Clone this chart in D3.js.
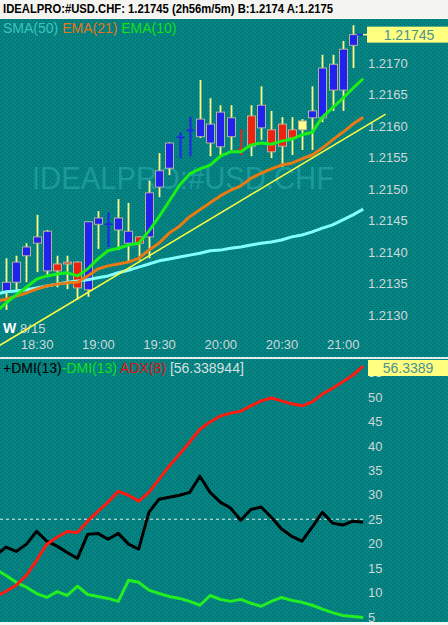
<!DOCTYPE html>
<html>
<head>
<meta charset="utf-8">
<script src="https://cdn.jsdelivr.net/npm/d3@7"></script>
<style>
  body { margin: 0; background: #f4f4f0; }
  svg { display: block; font-family: "Liberation Sans", Arial, sans-serif; }
</style>
</head>
<body>
<svg id="chart" width="448" height="625"></svg>
<script>
// 5 minute bars, USD.CHF, 15 Aug
const times = ["18:10","18:15","18:20","18:25","18:30","18:35","18:40","18:45","18:50","18:55",
  "19:00","19:05","19:10","19:15","19:20","19:25","19:30","19:35","19:40","19:45","19:50","19:55",
  "20:00","20:05","20:10","20:15","20:20","20:25","20:30","20:35","20:40","20:45","20:50","20:55",
  "21:00","21:05","21:10"]
const barTimes = times.slice(1, 36)

const open  = [1.21337,1.21352,1.21394,1.21414,1.21370,1.21381,1.21384,1.21384,1.21340,1.21444,
  1.21444,1.21435,1.21414,1.21424,1.21424,1.21503,1.21533,1.21582,1.21593,1.21583,1.21573,1.21567,
  1.21583,1.21563,1.21616,1.21597,1.21594,1.21603,1.21594,1.21594,1.21613,1.21613,1.21657,1.21657,1.21728]
const high  = [1.21390,1.21394,1.21414,1.21459,1.21435,1.21394,1.21394,1.21385,1.21449,1.21465,
  1.21463,1.21484,1.21478,1.21425,1.21513,1.21557,1.21574,1.21590,1.21614,1.21673,1.21644,1.21633,
  1.21633,1.21595,1.21633,1.21663,1.21624,1.21614,1.21614,1.21611,1.21663,1.21713,1.21713,1.21735,1.21760]
const low   = [1.21308,1.21340,1.21352,1.21368,1.21360,1.21344,1.21341,1.21324,1.21329,1.21405,
  1.21408,1.21403,1.21384,1.21387,1.21390,1.21487,1.21522,1.21549,1.21552,1.21581,1.21552,1.21554,
  1.21562,1.21554,1.21552,1.21578,1.21549,1.21535,1.21554,1.21562,1.21562,1.21606,1.21624,1.21624,1.21692]
const close = [1.21352,1.21384,1.21408,1.21424,1.21433,1.21370,1.21381,1.21343,1.21448,1.21454,
  1.21445,1.21454,1.21433,1.21414,1.21494,1.21529,1.21573,1.21583,1.21594,1.21611,1.21603,1.21622,
  1.21613,1.21562,1.21568,1.21633,1.21559,1.21568,1.21581,1.21608,1.21624,1.21692,1.21698,1.21722,1.21745]
const yellowBars = ["20:40"]

// moving averages, one value per entry of times
const sma50 = [1.21333,1.21337,1.21338,1.21340,1.21343,1.21346,1.21349,1.21352,1.21354,1.21356,
  1.21359,1.21362,1.21367,1.21371,1.21376,1.21381,1.21386,1.21389,1.21392,1.21395,1.21398,1.21402,
  1.21403,1.21406,1.21408,1.21411,1.21414,1.21416,1.21419,1.21424,1.21427,1.21432,1.21438,1.21443,
  1.21451,1.21459,1.21468]
const ema21 = [1.21322,1.21325,1.21330,1.21335,1.21341,1.21346,1.21349,1.21351,1.21352,1.21362,
  1.21373,1.21378,1.21381,1.21384,1.21390,1.21403,1.21414,1.21430,1.21441,1.21456,1.21467,1.21478,
  1.21489,1.21498,1.21505,1.21517,1.21525,1.21532,1.21538,1.21541,1.21548,1.21554,1.21565,1.21578,
  1.21590,1.21603,1.21614]
const ema10 = [1.21305,1.21319,1.21332,1.21344,1.21357,1.21362,1.21365,1.21367,1.21362,1.21373,
  1.21389,1.21402,1.21406,1.21411,1.21414,1.21433,1.21456,1.21481,1.21506,1.21524,1.21532,1.21538,
  1.21552,1.21559,1.21559,1.21570,1.21573,1.21571,1.21576,1.21579,1.21586,1.21590,1.21614,1.21629,
  1.21644,1.21660,1.21675]
const trendTimes = ["18:12", "21:21"]
const trendPrices = [1.21252, 1.21619]

// DMI panel
const plusDmi  = [17.6,19.3,18.4,19.9,22.5,20.5,19.5,18.2,17.0,21.9,22.1,20.9,22.1,19.9,18.9,26.4,
  29.1,29.5,29.9,30.5,33.8,30.5,28.5,27.3,24.8,27.0,27.5,25.4,23.0,21.5,20.5,23.4,26.4,24.2,23.8,24.6,24.4]
const minusDmi = [14.75,13.5,12.1,11.1,9.8,9.0,10.2,9.4,11.3,9.6,9.2,8.8,8.2,12.5,12.1,10.5,
  9.8,9.2,8.8,8.2,7.4,9.4,8.6,8.2,8.6,7.8,7.2,8.2,9.0,8.4,8.0,7.4,6.6,5.9,5.3,5.1,4.9]
const adx      = [9.2,10.25,11.5,13.5,16.6,19.9,21.3,22.5,22.3,24.6,26.6,28.5,30.7,29.9,28.7,30.5,
  33.2,35.9,38.3,40.8,43.4,44.9,46.1,46.7,47.1,48.2,49.2,49.8,49.2,48.6,48.2,49.0,50.6,51.8,53.1,54.5,56.34]

const priceTicks = [1.2130,1.2135,1.2140,1.2145,1.2150,1.2155,1.2160,1.2165,1.2170]
const dmiTicks = [5,10,15,20,25,30,35,40,45,50,55]
const lastPrice = 1.21745
const lastAdx = 56.338944

const parse = d3.timeParse("%Y-%m-%d %H:%M")
const t = s => parse("2000-08-15 " + s)

const svg = d3.select("#chart")
const W = 448
const topY0 = 19, topY1 = 357, botY0 = 359, botY1 = 622
const plotR = 365

const x = d3.scaleTime().domain([t("18:15"), t("21:05")]).range([6, 353])
const y = d3.scaleLinear().domain([1.2130, 1.2170]).range([315, 63])
const yd = d3.scaleLinear().domain([5, 50]).range([617, 397])

// backgrounds
const defs = svg.append("defs")
const pat = defs.append("pattern").attr("id", "dots")
    .attr("width", 4).attr("height", 4).attr("patternUnits", "userSpaceOnUse")
pat.append("rect").attr("width", 4).attr("height", 4).attr("fill", "#068383")
pat.append("rect").attr("x", 0).attr("y", 0).attr("width", 1).attr("height", 1).attr("fill", "#006767")
pat.append("rect").attr("x", 2).attr("y", 2).attr("width", 1).attr("height", 1).attr("fill", "#006767")

defs.append("clipPath").attr("id", "clipTop")
  .append("rect").attr("x", 0).attr("y", topY0).attr("width", W).attr("height", topY1 - topY0)
defs.append("clipPath").attr("id", "clipBot")
  .append("rect").attr("x", 0).attr("y", botY0).attr("width", W).attr("height", botY1 - botY0)

svg.append("rect").attr("width", W).attr("height", 625).attr("fill", "#f4f4f0")
svg.append("rect").attr("y", topY0).attr("width", W).attr("height", topY1 - topY0).attr("fill", "url(#dots)")
svg.append("rect").attr("y", topY1).attr("width", W).attr("height", botY0 - topY1).attr("fill", "#e4eeee")
svg.append("rect").attr("y", botY0).attr("width", W).attr("height", botY1 - botY0).attr("fill", "url(#dots)")

// header
svg.append("text")
    .attr("x", 3).attr("y", 13)
    .attr("font-size", 12).attr("font-weight", "bold").attr("fill", "#000")
    .attr("textLength", 330).attr("lengthAdjust", "spacingAndGlyphs")
    .text("IDEALPRO:#USD.CHF: 1.21745 (2h56m/5m)  B:1.2174 A:1.2175")

const topG = svg.append("g").attr("clip-path", "url(#clipTop)")

// watermark
topG.append("text")
    .attr("x", 32).attr("y", 189)
    .attr("font-size", 31).attr("fill", "#1b9a9a")
    .attr("textLength", 302).attr("lengthAdjust", "spacingAndGlyphs")
    .text("IDEALPRO:#USD.CHF")

// price axis
const pAxis = topG.append("g")
    .attr("transform", `translate(${368},0)`)
    .call(d3.axisRight(y).tickValues(priceTicks).tickFormat(d3.format(".4f")).tickSize(0).tickPadding(0))
pAxis.select(".domain").remove()
pAxis.selectAll("text").attr("font-size", 13).attr("fill", "#cdd8d8")
    .attr("font-family", "Liberation Sans, Arial, sans-serif")

// time axis
const tAxis = topG.append("g")
    .attr("transform", `translate(0,${340})`)
    .call(d3.axisBottom(x).ticks(d3.timeMinute.every(30)).tickFormat(d3.timeFormat("%H:%M")).tickSize(0).tickPadding(0))
tAxis.select(".domain").remove()
tAxis.selectAll("text").attr("font-size", 13).attr("fill", "#cdd8d8")
    .attr("font-family", "Liberation Sans, Arial, sans-serif")

const dateLbl = topG.append("text").attr("x", 3).attr("y", 333).attr("font-size", 13)
dateLbl.append("tspan").attr("font-weight", "bold").attr("fill", "#fff").attr("font-size", 14).text("W ")
dateLbl.append("tspan").attr("fill", "#cdd8d8").text("8/15")

// legend
const leg = topG.append("text").attr("x", 3).attr("y", 33).attr("font-size", 14)
leg.append("tspan").attr("fill", "#3cc4bc").text("SMA(50) ")
leg.append("tspan").attr("fill", "#e07818").text("EMA(21) ")
leg.append("tspan").attr("fill", "#14e014").text("EMA(10)")

// candles
const bars = barTimes.map((s, i) => ({ key: s, t: t(s), o: open[i], h: high[i], l: low[i], c: close[i] }))
const bw = 4
const candle = topG.append("g").selectAll("g").data(bars).join("g")
candle.each(function (d) {
    const g = d3.select(this)
    const cx = Math.round(x(d.t)) + 0.5
    const up = d.c >= d.o
    if (Math.abs(d.c - d.o) < 0.00002) {
        const col = up ? "#2222ee" : "#ee2211"
        g.append("line").attr("x1", cx).attr("x2", cx).attr("y1", y(d.h)).attr("y2", y(d.l))
            .attr("stroke", col).attr("stroke-width", 2)
        g.append("line").attr("x1", cx - bw).attr("x2", cx + bw).attr("y1", y(d.o)).attr("y2", y(d.o))
            .attr("stroke", col).attr("stroke-width", 1.5)
        return
    }
    g.append("line").attr("x1", cx).attr("x2", cx).attr("y1", y(d.h)).attr("y2", y(d.l))
        .attr("stroke", "#ffff88").attr("stroke-width", 1.8)
    const fill = yellowBars.includes(d.key) ? "#ffff88" : up ? "#2222ee" : "#ee2211"
    const yt = y(Math.max(d.o, d.c)), yb = y(Math.min(d.o, d.c))
    g.append("rect").attr("x", cx - bw).attr("width", bw * 2)
        .attr("y", yt).attr("height", Math.max(1.5, yb - yt))
        .attr("fill", fill).attr("stroke", "#b4b49c").attr("stroke-width", 1)
})

// average lines
const maLine = vals => d3.line().x((d, i) => x(t(times[i]))).y(d => y(d))(vals)
const lines = [
    { v: sma50, col: "#80ffff", w: 3 },
    { v: ema21, col: "#e87a14", w: 3 },
    { v: ema10, col: "#18f018", w: 3 }
]
topG.append("g").selectAll("path").data(lines).join("path")
    .attr("d", d => maLine(d.v))
    .attr("fill", "none").attr("stroke", d => d.col).attr("stroke-width", d => d.w)
    .attr("stroke-linejoin", "round")

topG.append("line")
    .attr("x1", x(t(trendTimes[0]))).attr("y1", y(trendPrices[0]))
    .attr("x2", x(t(trendTimes[1]))).attr("y2", y(trendPrices[1]))
    .attr("stroke", "#ffff40").attr("stroke-width", 1.5)

// last price marker
const lp = y(lastPrice)
const lastBar = bars[bars.length - 1]
topG.append("line").attr("x1", x(lastBar.t) + bw).attr("x2", 363).attr("y1", lp).attr("y2", lp)
    .attr("stroke", "#2222ee").attr("stroke-width", 1.5)
topG.append("line").attr("x1", 363).attr("x2", 368).attr("y1", lp).attr("y2", lp)
    .attr("stroke", "#ffff80").attr("stroke-width", 1.5)
topG.append("rect").attr("x", 367).attr("y", lp - 8).attr("width", W - 367).attr("height", 16)
    .attr("fill", "#ffff80")
topG.append("text").attr("x", 409).attr("y", lp).attr("dy", "0.36em")
    .attr("text-anchor", "middle").attr("font-size", 14).attr("fill", "#4a9292")
    .text(lastPrice.toFixed(5))

// DMI panel
const botG = svg.append("g").attr("clip-path", "url(#clipBot)")

const dAxis = botG.append("g")
    .attr("transform", `translate(${368},0)`)
    .call(d3.axisRight(yd).tickValues(dmiTicks).tickFormat(d3.format("d")).tickSize(0).tickPadding(0))
dAxis.select(".domain").remove()
dAxis.selectAll("text").attr("font-size", 13).attr("fill", "#cdd8d8")
    .attr("font-family", "Liberation Sans, Arial, sans-serif")

botG.append("line").attr("x1", 0).attr("x2", plotR).attr("y1", yd(25)).attr("y2", yd(25))
    .attr("stroke", "#e6eeee").attr("stroke-width", 1).attr("stroke-dasharray", "3,3")

const dLine = vals => d3.line().x((d, i) => x(t(times[i]))).y(d => yd(d))(vals)
const dmiLines = [
    { v: minusDmi, col: "#22ee22" },
    { v: plusDmi, col: "#000000" },
    { v: adx, col: "#ff1a10" }
]
botG.append("g").selectAll("path").data(dmiLines).join("path")
    .attr("d", d => dLine(d.v))
    .attr("fill", "none").attr("stroke", d => d.col).attr("stroke-width", 3)
    .attr("stroke-linejoin", "round")

const dleg = botG.append("text").attr("x", 3).attr("y", 373).attr("font-size", 14)
dleg.append("tspan").attr("fill", "#000").text("+DMI(13)")
dleg.append("tspan").attr("fill", "#14e014").text("-DMI(13) ")
dleg.append("tspan").attr("fill", "#e01010").text("ADX(8)  ")
dleg.append("tspan").attr("fill", "#d8e0e0").text("[" + lastAdx.toFixed(6) + "]")

const la = Math.max(yd(lastAdx), botY0 + 9)
botG.append("rect").attr("x", 368).attr("y", la - 8).attr("width", W - 368).attr("height", 16)
    .attr("fill", "#ffff80")
botG.append("text").attr("x", 408).attr("y", la).attr("dy", "0.36em")
    .attr("text-anchor", "middle").attr("font-size", 14).attr("fill", "#4a9292")
    .text(lastAdx.toFixed(4))
</script>
</body>
</html>
